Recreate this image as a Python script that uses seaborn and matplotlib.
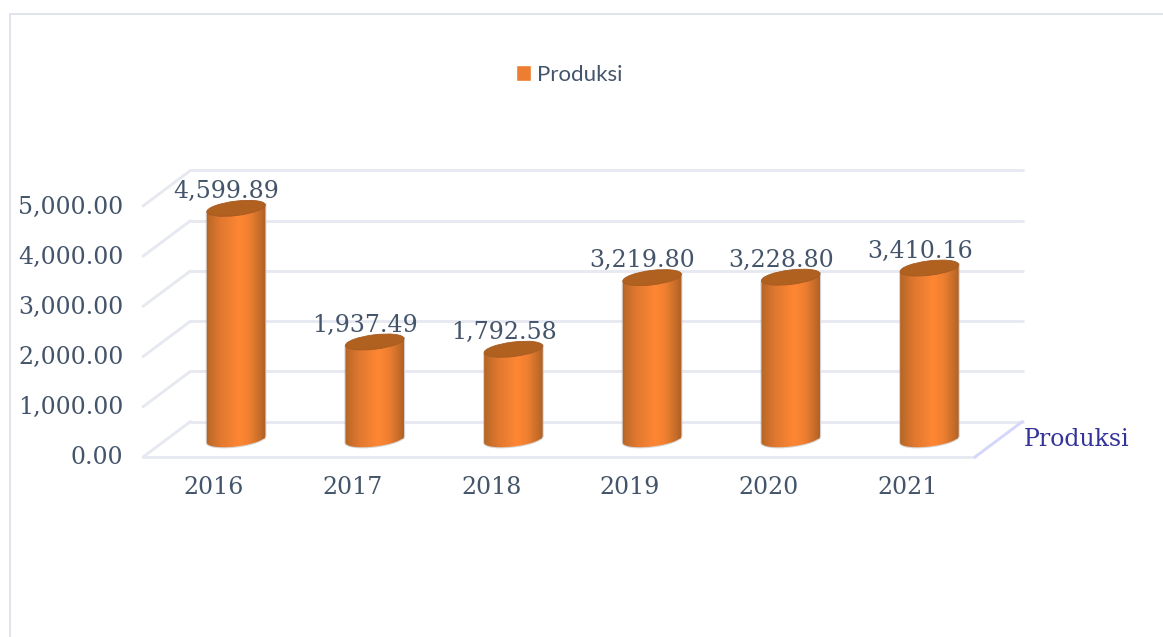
import numpy as np
import pandas as pd
import seaborn as sns
import matplotlib.pyplot as plt
from matplotlib.colors import LinearSegmentedColormap
from matplotlib.lines import Line2D
from matplotlib.patches import Ellipse, PathPatch
from matplotlib.path import Path
from matplotlib.transforms import Affine2D, IdentityTransform

# values
years = ["2016", "2017", "2018", "2019", "2020", "2021"]
produksi = [4599.89, 1937.49, 1792.58, 3219.80, 3228.80, 3410.16]
y_ticks = [0, 1000, 2000, 3000, 4000, 5000]
series_name = "Produksi"

W, H = 1163, 637
TEXT = "#44546A"
GRID = "#E7E9F1"
FS = 17

df = pd.DataFrame({"Tahun": years, series_name: produksi})

sns.set_style("white")
plt.rcParams["font.family"] = ["DejaVu Serif"]

fig = plt.figure(figsize=(W / 100, H / 100), dpi=100)
# front plane of the fake 3D box, in pixels of the target
ax = fig.add_axes([143 / W, (H - 457) / H, 832 / W, 251 / H])

sns.barplot(data=df, x="Tahun", y=series_name, color="#ED7D31", width=0.418,
            saturation=1, label=series_name, ax=ax)
ax.set_xlim(-0.5, 5.5)
ax.set_ylim(0, 5000)

# depth of the box in pixels, the cylinders stand half way in
depth_x, depth_y = 47.5, 35.5
back = ax.transData + Affine2D().translate(depth_x, depth_y)
mid = ax.transData + Affine2D().translate(depth_x / 2, depth_y / 2)
label_tr = ax.transData + Affine2D().translate(depth_x / 2 - 9.5, depth_y / 2 + 17)

for v in y_ticks:
    ax.plot([-0.5, 5.5], [v, v], color=GRID, lw=2.1, transform=back, clip_on=False, zorder=1)
    p0 = ax.transData.transform((-0.5, v))
    ax.add_line(Line2D([p0[0], p0[0] + depth_x], [p0[1], p0[1] + depth_y], color=GRID, lw=2.1,
                       transform=IdentityTransform(), clip_on=False, zorder=1))
ax.plot([-0.5, 5.5], [0, 0], color=GRID, lw=2.1, clip_on=False, zorder=1)
p1 = ax.transData.transform((5.5, 0))
ax.add_line(Line2D([p1[0], p1[0] + depth_x], [p1[1], p1[1] + depth_y], color="#D4D7FA", lw=2.1,
                   transform=IdentityTransform(), clip_on=False, zorder=1))

# cylinder shading
shade = LinearSegmentedColormap.from_list(
    "cyl", [(0, "#A85C22"), (0.07, "#BE6A28"), (0.25, "#E07830"), (0.55, "#FF8733"),
            (0.72, "#EE7F31"), (0.88, "#C56C29"), (1, "#A55A20")])
grad = np.linspace(0, 1, 128).reshape(1, -1)

semi_a, semi_b, tilt = 29.5, 7.2, np.radians(7)
for bar, value in zip(ax.patches, produksi):
    x0, w = bar.get_x(), bar.get_width()
    bar.set_transform(mid)
    bar.set_zorder(2)
    xc = x0 + w / 2
    top = mid.transform((xc, value))
    base = mid.transform((xc, 0))

    t = np.linspace(np.pi, 2 * np.pi, 40)
    ex = semi_a * np.cos(t) * np.cos(tilt) - semi_b * np.sin(t) * np.sin(tilt)
    ey = semi_a * np.cos(t) * np.sin(tilt) + semi_b * np.sin(t) * np.cos(tilt)
    verts = np.column_stack([base[0] + ex, base[1] + ey])
    verts = np.vstack([[top[0] + ex[0], top[1] + ey[0]], verts,
                       [top[0] + ex[-1], top[1] + ey[-1]], [top[0] + ex[0], top[1] + ey[0]]])
    body = PathPatch(Path(verts), transform=IdentityTransform(), facecolor="none",
                     edgecolor="#8C8C8C", alpha=0.35, lw=1.6, zorder=3, clip_on=False)
    ax.add_patch(body)

    im = ax.imshow(grad, cmap=shade, aspect="auto", interpolation="bilinear", zorder=4,
                   extent=(x0 - 0.02, x0 + w + 0.02, -400, value + 400), transform=mid)
    clip = PathPatch(Path(verts), transform=IdentityTransform())
    im.set_clip_path(clip)

    ax.add_patch(Ellipse(top, semi_a * 2, semi_b * 2, angle=np.degrees(tilt), facecolor="#B0601F",
                         edgecolor="#A65A22", lw=0.6, transform=IdentityTransform(),
                         zorder=5, clip_on=False))
    ax.text(xc, value, f"{value:,.2f}", transform=label_tr, ha="center", va="center",
            fontsize=FS, color=TEXT, zorder=6, clip_on=False)

ax.set_xlim(-0.5, 5.5)
ax.set_ylim(0, 5000)
ax.set_xlabel("")
ax.set_ylabel("")
ax.set_yticks(y_ticks)
ax.set_yticklabels([f"{v:,.2f}" for v in y_ticks], fontsize=FS, color=TEXT)
ax.tick_params(axis="y", length=0, pad=14)
ax.tick_params(axis="x", length=0, pad=13.5, labelsize=FS, labelcolor=TEXT)
for lab in ax.get_yticklabels():
    lab.set_transform(lab.get_transform() + Affine2D().translate(0, 1.5))
for lab in ax.get_xticklabels():
    lab.set_transform(lab.get_transform() + Affine2D().translate(1.5, 0))
sns.despine(ax=ax, left=True, bottom=True)
ax.patch.set_alpha(0)

fig.text(1024 / W, (H - 440) / H, series_name, ha="left", va="center", fontsize=FS, color="#333399")

leg = ax.legend(loc="center", bbox_to_anchor=(569 / W, (H - 75) / H), bbox_transform=fig.transFigure,
                frameon=False, handlelength=0.7, handleheight=0.7, handletextpad=0.25,
                prop={"family": "Lato", "size": 16})
for txt in leg.get_texts():
    txt.set_color(TEXT)

# outer chart frame
fig.add_artist(Line2D([10 / W, 10 / W], [0, (H - 14) / H], color="#E0E5EC", lw=1.4))
fig.add_artist(Line2D([10 / W, 1], [(H - 14) / H, (H - 14) / H], color="#E0E5EC", lw=1.4))

fig.savefig("out.png", dpi=100)
